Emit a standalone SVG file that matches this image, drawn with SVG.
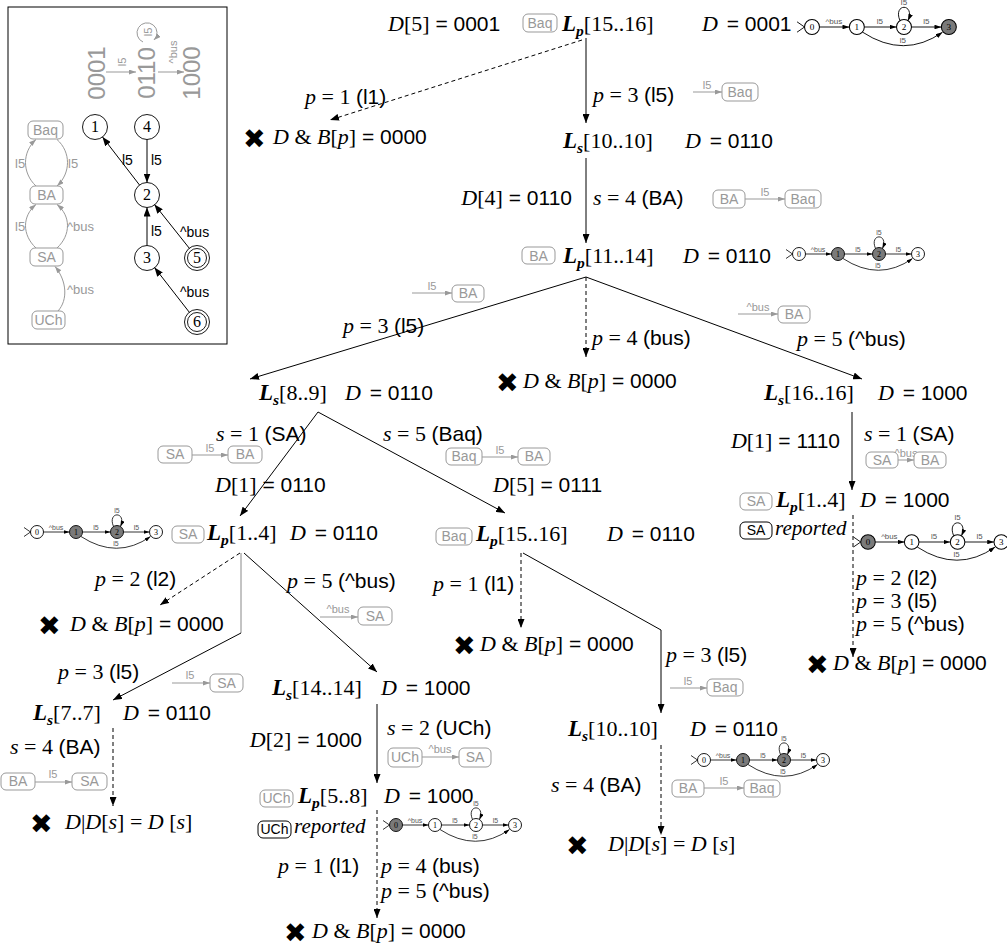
<svg xmlns="http://www.w3.org/2000/svg" width="1007" height="951" viewBox="0 0 1007 951">
<style>
text{font-family:"Liberation Serif",serif;font-size:22px;fill:#000}
.m{font-style:italic}
.t{font-family:"Liberation Sans",Arial,sans-serif;font-size:21px}
.L{font-style:italic;font-weight:bold;font-size:23px}
.Ls{font-style:italic;font-weight:bold;font-size:15.5px}
.x{font-family:"DejaVu Sans",sans-serif;font-size:27px}
.gb rect{fill:#fff;stroke:#999;stroke-width:1}
.gb text{font-family:"Liberation Sans",Arial,sans-serif;font-size:14px;fill:#999;text-anchor:middle}
.kb rect{fill:#fff;stroke:#000;stroke-width:1}
.kb text{font-family:"Liberation Sans",Arial,sans-serif;font-size:14px;fill:#000;text-anchor:middle}
.gl{font-family:"Liberation Sans",Arial,sans-serif;font-size:11px;fill:#999;text-anchor:middle}
.ga{stroke:#999;stroke-width:1;fill:none;marker-end:url(#ag)}
.c{stroke:#000;stroke-width:1;fill:none;marker-end:url(#ah)}
.d{stroke-dasharray:4 3}
.sc{fill:none;stroke:#000;stroke-width:0.9}
.sh{fill:#7a7a7a;stroke:none}
.ae{fill:none;stroke:#000;stroke-width:0.8;marker-end:url(#as)}
.sn{font-size:8px;text-anchor:middle}
.al{font-family:"Liberation Sans",Arial,sans-serif;font-size:7px;fill:#555;text-anchor:middle}
.big{font-family:"Liberation Sans",Arial,sans-serif;font-size:24px;fill:#999;text-anchor:middle}
.gn{font-size:16px;text-anchor:middle}
.bl{font-family:"Liberation Sans",Arial,sans-serif;font-size:14px}
.gl2{font-family:"Liberation Sans",Arial,sans-serif;font-size:13px;fill:#999}
.rp{font-style:italic;font-size:21px}
</style>
<defs>
<marker id="ah" markerWidth="9" markerHeight="7" refX="9" refY="3.5" orient="auto" markerUnits="userSpaceOnUse"><path d="M0,0L9,3.5L0,7z" fill="#000"/></marker>
<marker id="ag" markerWidth="7" markerHeight="5" refX="7" refY="2.5" orient="auto" markerUnits="userSpaceOnUse"><path d="M0,0L7,2.5L0,5z" fill="#999"/></marker>
<marker id="as" markerWidth="6" markerHeight="4" refX="6" refY="2" orient="auto" markerUnits="userSpaceOnUse"><path d="M0,0L6,2L0,4z" fill="#000"/></marker>
<g id="aut">
<path d="M-13,-4.5L-6.5,0L-13,4.5" fill="none" stroke="#000" stroke-width="0.8"/>
<circle r="6.5" class="sc"/>
<circle cx="39" r="6.5" class="sc"/>
<circle cx="80" r="6.5" class="sc"/>
<circle cx="119" r="6.5" class="sc" stroke-width="1.8"/>
<path d="M6.5,0H32.5" class="ae"/>
<path d="M45.5,0H73.5" class="ae"/>
<path d="M86.5,0H112.5" class="ae"/>
<path d="M76.5,-5.5C70,-21 90,-21 83.5,-5.5" class="ae"/>
<path d="M44,4.5Q80,28 113.5,4.5" class="ae"/>
<text class="sn" x="0" y="2.8">0</text>
<text class="sn" x="39" y="2.8">1</text>
<text class="sn" x="80" y="2.8">2</text>
<text class="sn" x="119" y="2.8">3</text>
<text class="al" x="19" y="-2.5">^bus</text>
<text class="al" x="59" y="-2.5">l5</text>
<text class="al" x="99.5" y="-2.5">l5</text>
<text class="al" x="80" y="-19.5">l5</text>
<text class="al" x="79" y="13.5">l5</text>
</g>
</defs>
<rect width="1007" height="951" fill="#fff"/>

<g id="legend">
<rect x="8" y="7" width="219" height="337" fill="none" stroke="#000"/>
<text class="big" transform="translate(97,73) rotate(-90)" y="8">0001</text>
<text class="big" transform="translate(147,73) rotate(-90)" y="8">0110</text>
<text class="big" transform="translate(192,73) rotate(-90)" y="8">1000</text>
<path class="ga" d="M106,72H136"/>
<path class="ga" d="M158,72H184"/>
<path class="ga" d="M143,42A10,10 0 1 1 154,40"/>
<text class="gl" transform="translate(126,62) rotate(-90)">l5</text>
<text class="gl" transform="translate(177,52) rotate(-90)">^bus</text>
<text class="gl" transform="translate(152,32) rotate(-90)">l5</text>
<g class="sc" stroke-width="1">
<circle cx="95" cy="127" r="12.5"/>
<circle cx="147" cy="127" r="12.5"/>
<circle cx="147" cy="195" r="12.5"/>
<circle cx="147" cy="258" r="12.5"/>
<circle cx="197" cy="258" r="12.5"/><circle cx="197" cy="258" r="9.5"/>
<circle cx="197" cy="322" r="12.5"/><circle cx="197" cy="322" r="9.5"/>
</g>
<text class="gn" x="95" y="132">1</text>
<text class="gn" x="147" y="132">4</text>
<text class="gn" x="147" y="200">2</text>
<text class="gn" x="147" y="263">3</text>
<text class="gn" x="197" y="263">5</text>
<text class="gn" x="197" y="327">6</text>
<path class="c" d="M139.5,185L102.5,137"/>
<path class="c" d="M147,139.5V182.5"/>
<path class="c" d="M147,245.5V207.5"/>
<path class="c" d="M189.5,248.5L154.5,204.5"/>
<path class="c" d="M189.5,312.5L154.5,267.5"/>
<text class="bl" x="122" y="165">l5</text>
<text class="bl" x="151" y="165">l5</text>
<text class="bl" x="151" y="236">l5</text>
<text class="bl" x="180" y="237">^bus</text>
<text class="bl" x="180" y="297">^bus</text>
<g class="gb"><rect x="28" y="121" width="35" height="18" rx="5"/><text x="45.5" y="135">Baq</text></g>
<g class="gb"><rect x="30" y="186" width="33" height="18" rx="5"/><text x="46.5" y="200">BA</text></g>
<g class="gb"><rect x="30" y="248" width="33" height="18" rx="5"/><text x="46.5" y="262">SA</text></g>
<g class="gb"><rect x="32" y="311" width="33" height="18" rx="5"/><text x="48.5" y="325">UCh</text></g>
<path class="ga" d="M36,186C22,173 22,152 36,139.5"/>
<path class="ga" d="M57,139.5C71,152 71,173 57,186"/>
<path class="ga" d="M36,248C22,235 22,216 36,204.5"/>
<path class="ga" d="M57,248C71,235 71,216 57,204.5"/>
<path class="ga" d="M58,311C68,300 67,281 55,266.5"/>
<text class="gl2" x="15" y="168">l5</text>
<text class="gl2" x="68" y="168">l5</text>
<text class="gl2" x="15" y="231">l5</text>
<text class="gl2" x="67" y="231">^bus</text>
<text class="gl2" x="67" y="294">^bus</text>
</g>

<g id="connectors">
<path class="c" d="M586,38V123"/>
<path class="c d" d="M582,40L330,120"/>
<path class="c" d="M586,158V243"/>
<path class="c" d="M586,277L250,379"/>
<path class="c d" d="M586,277V357"/>
<path class="c" d="M586,277L862,379"/>
<path class="c" d="M318,412L240,516"/>
<path class="c" d="M318,412L505,513"/>
<path class="c" d="M852,412V490"/>
<path class="c d" d="M853,515V657"/>
<path class="c d" d="M240,553L160,605"/>
<path d="M241,553V633" stroke="#888" fill="none"/>
<path class="c" d="M241,633L113,700"/>
<path class="c" d="M244,553L377,672"/>
<path class="c d" d="M113,728V806"/>
<path class="c" d="M377,704V783"/>
<path class="c d" d="M377,810V918"/>
<path class="c d" d="M521,553V628"/>
<path class="c" d="M523,553L661,630V713"/>
<path class="c d" d="M661,745V835"/>
<path class="ga" d="M693,92H722"/>
<path class="ga" d="M745,199H785"/>
<path class="ga" d="M412,293H452"/>
<path class="ga" d="M738,314H778"/>
<path class="ga" d="M192,455H228"/>
<path class="ga" d="M482,457H518"/>
<path class="ga" d="M898,460H914"/>
<path class="ga" d="M172,683H210"/>
<path class="ga" d="M320,617H358"/>
<path class="ga" d="M35,782H72"/>
<path class="ga" d="M422,757H459"/>
<path class="ga" d="M670,688H707"/>
<path class="ga" d="M704,788H744"/>
</g>

<g id="n-top">
<text x="388" y="31"><tspan class="m">D</tspan>[5]<tspan class="t"> = 0001</tspan></text>
<g class="gb"><rect x="523" y="14" width="34" height="18" rx="5"/><text x="540" y="28">Baq</text></g>
<text x="562" y="31"><tspan class="L">L</tspan><tspan class="Ls" dy="5">p</tspan><tspan dy="-5">[15..16]</tspan></text>
<text x="702" y="31"><tspan class="m">D</tspan><tspan class="t" dx="3"> = 0001</tspan></text>
<g transform="translate(812,27) scale(1.15)"><circle cx="119" r="6.5" class="sh"/><use href="#aut"/></g>
</g>

<g id="e-top-labels">
<text x="305" y="104"><tspan class="m">p</tspan> = 1 <tspan class="t">(l1)</tspan></text>
<text x="593" y="102"><tspan class="m">p</tspan> = 3 <tspan class="t">(l5)</tspan></text>
<text class="gl" x="707" y="89">l5</text>
<g class="gb"><rect x="722" y="83" width="36" height="18" rx="5"/><text x="740" y="97">Baq</text></g>
</g>

<g id="n-fail1">
<text class="x" x="243" y="148">✖</text>
<text x="273" y="144"><tspan class="m">D</tspan> &amp; <tspan class="m">B</tspan>[<tspan class="m">p</tspan>]<tspan class="t"> = 0000</tspan></text>
</g>

<g id="n-ls1010">
<text x="563" y="148"><tspan class="L">L</tspan><tspan class="Ls" dy="5">s</tspan><tspan dy="-5">[10..10]</tspan></text>
<text x="685" y="148"><tspan class="m">D</tspan><tspan class="t" dx="3"> = 0110</tspan></text>
<text x="572" y="205" text-anchor="end"><tspan class="m">D</tspan>[4]<tspan class="t"> = 0110</tspan></text>
<text x="593" y="205"><tspan class="m">s</tspan> = 4 <tspan class="t">(BA)</tspan></text>
<g class="gb"><rect x="713" y="190" width="32" height="18" rx="5"/><text x="729" y="204">BA</text></g>
<text class="gl" x="765" y="196">l5</text>
<g class="gb"><rect x="785" y="190" width="36" height="18" rx="5"/><text x="803" y="204">Baq</text></g>
</g>

<g id="n-lp1114">
<g class="gb"><rect x="522" y="247" width="33" height="17" rx="5"/><text x="538.5" y="261">BA</text></g>
<text x="563" y="263"><tspan class="L">L</tspan><tspan class="Ls" dy="5">p</tspan><tspan dy="-5">[11..14]</tspan></text>
<text x="683" y="263"><tspan class="m">D</tspan><tspan class="t" dx="3"> = 0110</tspan></text>
<g transform="translate(799,254)"><circle cx="39" r="6.5" class="sh"/><circle cx="80" r="6.5" class="sh"/><use href="#aut"/></g>
<text x="343" y="333"><tspan class="m">p</tspan> = 3 <tspan class="t">(l5)</tspan></text>
<text class="gl" x="432" y="290">l5</text>
<g class="gb"><rect x="452" y="285" width="32" height="17" rx="5"/><text x="468" y="298">BA</text></g>
<text x="592" y="345"><tspan class="m">p</tspan> = 4 <tspan class="t">(bus)</tspan></text>
<text x="797" y="346"><tspan class="m">p</tspan> = 5 <tspan class="t">(^bus)</tspan></text>
<text class="gl" x="758" y="311">^bus</text>
<g class="gb"><rect x="778" y="306" width="32" height="17" rx="5"/><text x="794" y="319">BA</text></g>
</g>

<g id="n-fail2">
<text class="x" x="496" y="392">✖</text>
<text x="523" y="388"><tspan class="m">D</tspan> &amp; <tspan class="m">B</tspan>[<tspan class="m">p</tspan>]<tspan class="t"> = 0000</tspan></text>
</g>

<g id="n-ls89">
<text x="259" y="400"><tspan class="L">L</tspan><tspan class="Ls" dy="5">s</tspan><tspan dy="-5">[8..9]</tspan></text>
<text x="345" y="400"><tspan class="m">D</tspan><tspan class="t" dx="3"> = 0110</tspan></text>
<text x="216" y="441"><tspan class="m">s</tspan> = 1 <tspan class="t">(SA)</tspan></text>
<g class="gb"><rect x="158" y="446" width="34" height="17" rx="5"/><text x="175" y="459">SA</text></g>
<text class="gl" x="210" y="452">l5</text>
<g class="gb"><rect x="228" y="446" width="34" height="17" rx="5"/><text x="245" y="459">BA</text></g>
<text x="215" y="492"><tspan class="m">D</tspan>[1]<tspan class="t"> = 0110</tspan></text>
<text x="383" y="441"><tspan class="m">s</tspan> = 5 <tspan class="t">(Baq)</tspan></text>
<g class="gb"><rect x="446" y="448" width="36" height="17" rx="5"/><text x="464" y="461">Baq</text></g>
<text class="gl" x="500" y="454">l5</text>
<g class="gb"><rect x="518" y="448" width="32" height="17" rx="5"/><text x="534" y="461">BA</text></g>
<text x="493" y="492"><tspan class="m">D</tspan>[5]<tspan class="t"> = 0111</tspan></text>
</g>

<g id="n-ls1616">
<text x="764" y="400"><tspan class="L">L</tspan><tspan class="Ls" dy="5">s</tspan><tspan dy="-5">[16..16]</tspan></text>
<text x="878" y="400"><tspan class="m">D</tspan><tspan class="t" dx="3"> = 1000</tspan></text>
<text x="840" y="448" text-anchor="end"><tspan class="m">D</tspan>[1]<tspan class="t"> = 1110</tspan></text>
<text x="864" y="441"><tspan class="m">s</tspan> = 1 <tspan class="t">(SA)</tspan></text>
<g class="gb"><rect x="866" y="452" width="32" height="16" rx="5"/><text x="882" y="465">SA</text></g>
<text class="gl" x="906" y="457">^bus</text>
<g class="gb"><rect x="914" y="452" width="32" height="16" rx="5"/><text x="930" y="465">BA</text></g>
</g>

<g id="n-lp14-right">
<g class="gb"><rect x="740" y="493" width="32" height="17" rx="5"/><text x="756" y="506">SA</text></g>
<text x="776" y="507"><tspan class="L">L</tspan><tspan class="Ls" dy="5">p</tspan><tspan dy="-5">[1..4]</tspan></text>
<text x="860" y="507"><tspan class="m">D</tspan><tspan class="t" dx="3"> = 1000</tspan></text>
<g class="kb"><rect x="740" y="522" width="32" height="17" rx="5"/><text x="756" y="535">SA</text></g>
<text x="775" y="535" class="rp">reported</text>
<g transform="translate(868,542) scale(1.12)"><circle r="6.5" class="sh"/><use href="#aut"/></g>
<text x="856" y="585"><tspan class="m">p</tspan> = 2 <tspan class="t">(l2)</tspan></text>
<text x="856" y="608"><tspan class="m">p</tspan> = 3 <tspan class="t">(l5)</tspan></text>
<text x="856" y="631"><tspan class="m">p</tspan> = 5 <tspan class="t">(^bus)</tspan></text>
<text class="x" x="806" y="674">✖</text>
<text x="833" y="670"><tspan class="m">D</tspan> &amp; <tspan class="m">B</tspan>[<tspan class="m">p</tspan>]<tspan class="t"> = 0000</tspan></text>
</g>

<g id="n-lp14-left">
<g transform="translate(37,532)"><circle cx="39" r="6.5" class="sh"/><circle cx="80" r="6.5" class="sh"/><use href="#aut"/></g>
<g class="gb"><rect x="172" y="526" width="32" height="17" rx="5"/><text x="188" y="539">SA</text></g>
<text x="207" y="540"><tspan class="L">L</tspan><tspan class="Ls" dy="5">p</tspan><tspan dy="-5">[1..4]</tspan></text>
<text x="290" y="540"><tspan class="m">D</tspan><tspan class="t" dx="3"> = 0110</tspan></text>
<text x="95" y="586"><tspan class="m">p</tspan> = 2 <tspan class="t">(l2)</tspan></text>
<text class="x" x="38" y="635">✖</text>
<text x="70" y="631"><tspan class="m">D</tspan> &amp; <tspan class="m">B</tspan>[<tspan class="m">p</tspan>]<tspan class="t"> = 0000</tspan></text>
<text x="58" y="679"><tspan class="m">p</tspan> = 3 <tspan class="t">(l5)</tspan></text>
<text class="gl" x="190" y="679">l5</text>
<g class="gb"><rect x="210" y="674" width="33" height="18" rx="5"/><text x="226.5" y="688">SA</text></g>
<text x="287" y="588"><tspan class="m">p</tspan> = 5 <tspan class="t">(^bus)</tspan></text>
<text class="gl" x="338" y="613">^bus</text>
<g class="gb"><rect x="358" y="607" width="34" height="18" rx="5"/><text x="375" y="621">SA</text></g>
</g>

<g id="n-ls77">
<text x="33" y="720"><tspan class="L">L</tspan><tspan class="Ls" dy="5">s</tspan><tspan dy="-5">[7..7]</tspan></text>
<text x="123" y="720"><tspan class="m">D</tspan><tspan class="t" dx="3"> = 0110</tspan></text>
<text x="10" y="754"><tspan class="m">s</tspan> = 4 <tspan class="t">(BA)</tspan></text>
<g class="gb"><rect x="1" y="773" width="34" height="17" rx="5"/><text x="18" y="786">BA</text></g>
<text class="gl" x="53" y="778">l5</text>
<g class="gb"><rect x="72" y="773" width="35" height="17" rx="5"/><text x="89.5" y="786">SA</text></g>
<text class="x" x="30" y="833">✖</text>
<text x="65" y="829"><tspan class="m">D</tspan>|<tspan class="m">D</tspan>[<tspan class="m">s</tspan>] = <tspan class="m">D</tspan> [<tspan class="m">s</tspan>]</text>
</g>

<g id="n-ls1414">
<text x="272" y="695"><tspan class="L">L</tspan><tspan class="Ls" dy="5">s</tspan><tspan dy="-5">[14..14]</tspan></text>
<text x="381" y="695"><tspan class="m">D</tspan><tspan class="t" dx="3"> = 1000</tspan></text>
<text x="362" y="747" text-anchor="end"><tspan class="m">D</tspan>[2]<tspan class="t"> = 1000</tspan></text>
<text x="387" y="735"><tspan class="m">s</tspan> = 2 <tspan class="t">(UCh)</tspan></text>
<g class="gb"><rect x="388" y="748" width="34" height="19" rx="5"/><text x="405" y="762">UCh</text></g>
<text class="gl" x="440" y="753">^bus</text>
<g class="gb"><rect x="459" y="748" width="32" height="19" rx="5"/><text x="475" y="762">SA</text></g>
</g>

<g id="n-lp58">
<g class="gb"><rect x="260" y="790" width="33" height="17" rx="5"/><text x="276.5" y="803">UCh</text></g>
<text x="298" y="803"><tspan class="L">L</tspan><tspan class="Ls" dy="5">p</tspan><tspan dy="-5">[5..8]</tspan></text>
<text x="384" y="803"><tspan class="m">D</tspan><tspan class="t" dx="3"> = 1000</tspan></text>
<g class="kb"><rect x="258" y="821" width="33" height="17" rx="5"/><text x="274.5" y="834">UCh</text></g>
<text x="294" y="833" class="rp">reported</text>
<g transform="translate(396,825)"><circle r="6.5" class="sh"/><use href="#aut"/></g>
<text x="278" y="873"><tspan class="m">p</tspan> = 1 <tspan class="t">(l1)</tspan></text>
<text x="381" y="873"><tspan class="m">p</tspan> = 4 <tspan class="t">(bus)</tspan></text>
<text x="381" y="898"><tspan class="m">p</tspan> = 5 <tspan class="t">(^bus)</tspan></text>
<text class="x" x="284" y="942">✖</text>
<text x="312" y="938"><tspan class="m">D</tspan> &amp; <tspan class="m">B</tspan>[<tspan class="m">p</tspan>]<tspan class="t"> = 0000</tspan></text>
</g>

<g id="n-lp1516-mid">
<g class="gb"><rect x="436" y="528" width="36" height="17" rx="5"/><text x="454" y="541">Baq</text></g>
<text x="476" y="541"><tspan class="L">L</tspan><tspan class="Ls" dy="5">p</tspan><tspan dy="-5">[15..16]</tspan></text>
<text x="607" y="541"><tspan class="m">D</tspan><tspan class="t" dx="3"> = 0110</tspan></text>
<text x="433" y="591"><tspan class="m">p</tspan> = 1 <tspan class="t">(l1)</tspan></text>
<text class="x" x="453" y="655">✖</text>
<text x="480" y="651"><tspan class="m">D</tspan> &amp; <tspan class="m">B</tspan>[<tspan class="m">p</tspan>]<tspan class="t"> = 0000</tspan></text>
<text x="666" y="662"><tspan class="m">p</tspan> = 3 <tspan class="t">(l5)</tspan></text>
<text class="gl" x="688" y="685">l5</text>
<g class="gb"><rect x="707" y="679" width="36" height="17" rx="5"/><text x="725" y="692">Baq</text></g>
</g>

<g id="n-ls1010-mid">
<text x="568" y="736"><tspan class="L">L</tspan><tspan class="Ls" dy="5">s</tspan><tspan dy="-5">[10..10]</tspan></text>
<text x="690" y="736"><tspan class="m">D</tspan><tspan class="t" dx="3"> = 0110</tspan></text>
<g transform="translate(704,760)"><circle cx="39" r="6.5" class="sh"/><circle cx="80" r="6.5" class="sh"/><use href="#aut"/></g>
<text x="551" y="792"><tspan class="m">s</tspan> = 4 <tspan class="t">(BA)</tspan></text>
<g class="gb"><rect x="672" y="780" width="32" height="17" rx="5"/><text x="688" y="793">BA</text></g>
<text class="gl" x="724" y="785">l5</text>
<g class="gb"><rect x="744" y="780" width="36" height="17" rx="5"/><text x="762" y="793">Baq</text></g>
<text class="x" x="566" y="855">✖</text>
<text x="608" y="851"><tspan class="m">D</tspan>|<tspan class="m">D</tspan>[<tspan class="m">s</tspan>] = <tspan class="m">D</tspan> [<tspan class="m">s</tspan>]</text>
</g>
</svg>
